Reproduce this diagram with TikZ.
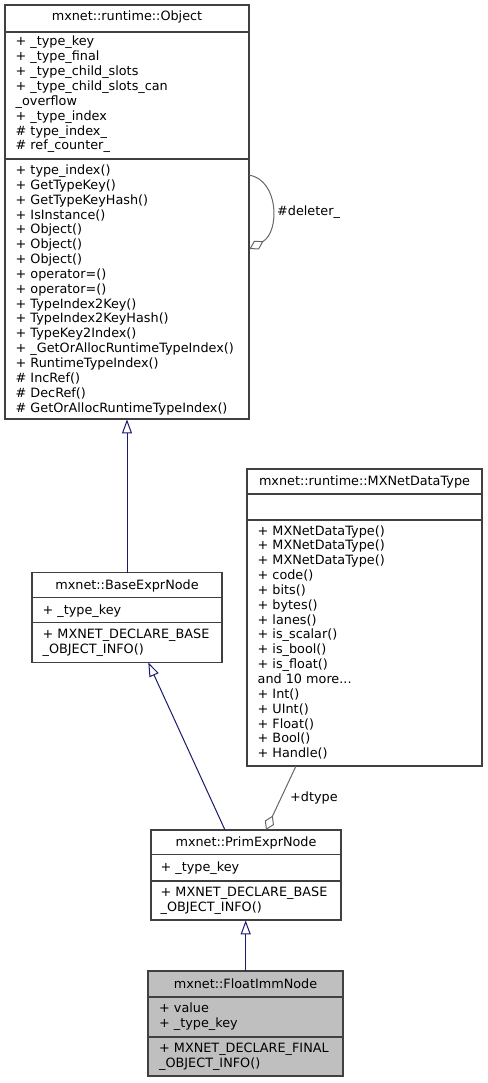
\documentclass[tikz,border=0pt]{standalone}
\usepackage{fontspec}
\setmainfont{DejaVu Sans}
\usetikzlibrary{arrows.meta}
\definecolor{boxline}{HTML}{404040}
\definecolor{edgegray}{HTML}{666666}
\definecolor{inhblue}{HTML}{191970}
\definecolor{finalfill}{HTML}{BFBFBF}
\newcommand{\umlfont}{\fontsize{12.8}{14.85}\selectfont}
\newcommand{\umllines}[1]{\begin{tabular}[t]{@{}l@{}}#1\end{tabular}}
\tikzset{
  umlbox/.style={draw=boxline, line width=1.1pt, fill=white},
  finalbox/.style={draw=boxline, line width=1.1pt, fill=finalfill},
  sepline/.style={draw=boxline, line width=1.1pt},
  umltitle/.style={anchor=base, inner sep=0pt, font=\umlfont},
  umltext/.style={anchor=base west, inner sep=0pt, font=\umlfont},
  inherit/.style={draw=inhblue, line width=1pt, -{Triangle[open, length=14pt, width=10pt]}},
  aggreg/.style={draw=edgegray, line width=1pt, -{Diamond[open, length=16pt, width=10pt]}},
  edgelabel/.style={anchor=base west, inner sep=0pt, font=\umlfont},
}
\begin{document}
\begin{tikzpicture}[x=1pt,y=-1pt]
\useasboundingbox (0,0) rectangle (487,1083);

% ---------- mxnet::runtime::Object ----------
\path[umlbox] (5,5) rectangle (249,419);
\node[draw=none, inner sep=0pt, minimum width=244pt, minimum height=414pt, anchor=north west] (obj) at (5,5) {};
\draw[sepline] (5,32) -- (249,32);
\draw[sepline] (5,159) -- (249,159);
\node[umltitle] (objT) at (127,21) {mxnet::runtime::Object};
\node[umltext] (objA) at (15.5,46) {\umllines{+ \_type\_key\\+ \_type\_final\\+ \_type\_child\_slots\\+ \_type\_child\_slots\_can\\\_overflow\\+ \_type\_index\\\# type\_index\_\\\# ref\_counter\_}};
\node[umltext] (objM) at (15.5,174.5) {\umllines{+ type\_index()\\+ GetTypeKey()\\+ GetTypeKeyHash()\\+ IsInstance()\\+ Object()\\+ Object()\\+ Object()\\+ operator=()\\+ operator=()\\+ TypeIndex2Key()\\+ TypeIndex2KeyHash()\\+ TypeKey2Index()\\+ \_GetOrAllocRuntimeTypeIndex()\\+ RuntimeTypeIndex()\\\# IncRef()\\\# DecRef()\\\# GetOrAllocRuntimeTypeIndex()}};

% self loop
\coordinate (loopS) at (249,175);
\coordinate (loopE) at (249.5,249);
\draw[aggreg] (loopS) .. controls (279,180) and (280,232) .. (loopE);
\node[edgelabel] (delL) at (277,216) {\#deleter\_};

% ---------- mxnet::BaseExprNode ----------
\path[umlbox] (32,572.5) rectangle (222,662.5);
\node[draw=none, inner sep=0pt, minimum width=190pt, minimum height=90pt, anchor=north west] (base) at (32,572.5) {};
\draw[sepline] (32,597.7) -- (222,597.7);
\draw[sepline] (32,622.7) -- (222,622.7);
\node[umltitle] (baseT) at (127,589) {mxnet::BaseExprNode};
\node[umltext] (baseA) at (42.5,614) {\umllines{+ \_type\_key}};
\node[umltext] (baseM) at (42.5,638.5) {\umllines{+ MXNET\_DECLARE\_BASE\\\_OBJECT\_INFO()}};

% ---------- mxnet::runtime::MXNetDataType ----------
\path[umlbox] (247,469) rectangle (482,766);
\node[draw=none, inner sep=0pt, minimum width=235pt, minimum height=297pt, anchor=north west] (dt) at (247,469) {};
\draw[sepline] (247,494) -- (482,494);
\draw[sepline] (247,520) -- (482,520);
\node[umltitle] (dtT) at (364.5,485.5) {mxnet::runtime::MXNetDataType};
\node[umltext] (dtM) at (257.5,535) {\umllines{+ MXNetDataType()\\+ MXNetDataType()\\+ MXNetDataType()\\+ code()\\+ bits()\\+ bytes()\\+ lanes()\\+ is\_scalar()\\+ is\_bool()\\+ is\_float()\\and 10 more...\\+ Int()\\+ UInt()\\+ Float()\\+ Bool()\\+ Handle()}};

% ---------- mxnet::PrimExprNode ----------
\path[umlbox] (151,830) rectangle (341,920);
\node[draw=none, inner sep=0pt, minimum width=190pt, minimum height=90pt, anchor=north west] (prim) at (151,830) {};
\draw[sepline] (151,854.5) -- (341,854.5);
\draw[sepline] (151,881) -- (341,881);
\node[umltitle] (primT) at (246,846.5) {mxnet::PrimExprNode};
\node[umltext] (primA) at (160.5,871) {\umllines{+ \_type\_key}};
\node[umltext] (primM) at (160.5,896.5) {\umllines{+ MXNET\_DECLARE\_BASE\\\_OBJECT\_INFO()}};

% ---------- mxnet::FloatImmNode ----------
\path[finalbox] (148,971) rectangle (343,1076);
\node[draw=none, inner sep=0pt, minimum width=195pt, minimum height=105pt, anchor=north west] (flt) at (148,971) {};
\draw[sepline] (148,997) -- (343,997);
\draw[sepline] (148,1037) -- (343,1037);
\node[umltitle] (fltT) at (245.5,988) {mxnet::FloatImmNode};
\node[umltext] (fltA) at (159,1012.5) {\umllines{+ value\\+ \_type\_key}};
\node[umltext] (fltM) at (159,1052.5) {\umllines{+ MXNET\_DECLARE\_FINAL\\\_OBJECT\_INFO()}};

% ---------- edges ----------
\draw[inherit] (base.north -| 127,0) -- (obj.south -| 127,0);
\coordinate (pb) at (225,830);
\coordinate (bp) at (148.3,662.5);
\draw[inherit] (pb) -- (bp);
\draw[inherit] (flt.north -| 245.7,0) -- (prim.south -| 245.7,0);
\coordinate (dtS) at (296,766);
\coordinate (prT) at (266,830);
\draw[aggreg] (dtS) -- (prT);
\node[edgelabel] (dtypeL) at (290,801) {+dtype};
\end{tikzpicture}
\end{document}
